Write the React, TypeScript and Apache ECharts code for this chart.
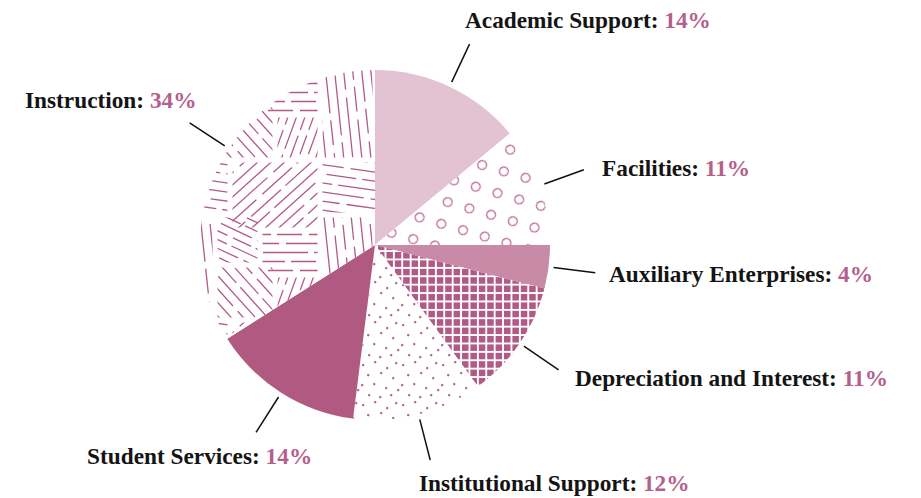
import React, { useEffect, useRef } from "react";
import * as echarts from "echarts";

// ---- data ----
const categories = [
  "Academic Support",
  "Facilities",
  "Auxiliary Enterprises",
  "Depreciation and Interest",
  "Institutional Support",
  "Student Services",
  "Instruction",
];
const shares = [14, 11, 4, 11, 12, 14, 34];

// ---- layout ----
const CENTER = [375, 245];
const RADIUS = 175;
const LINE_START = 180;
const LINE_END = 222;
const angleNudge = [0, 0, 0, 0, 0, 0, 4.6];
const labelLeft = [465, 602, 609, 575, 419, 87, 25];
const labelMidY = [19.5, 167.5, 273.5, 377.5, 483, 456, 99.5];

const PINK = "#b5588a";
const DARK = "#b05a86";

const svgUrl = (svg: string) =>
  "data:image/svg+xml;charset=utf-8," + encodeURIComponent(svg);

function circlesTile() {
  const s = 32;
  const c = (x: number, y: number) =>
    `<circle cx="${x}" cy="${y}" r="4.4" fill="none" stroke="${PINK}" stroke-width="1.2"/>`;
  return svgUrl(
    `<svg xmlns="http://www.w3.org/2000/svg" width="${s}" height="${s}"><rect width="${s}" height="${s}" fill="#fff"/>${c(8, 8)}${c(24, 24)}</svg>`
  );
}

function gridTile() {
  const s = 8.4;
  return svgUrl(
    `<svg xmlns="http://www.w3.org/2000/svg" width="${s}" height="${s}" viewBox="0 0 ${s} ${s}"><rect width="${s}" height="${s}" fill="#fff"/><rect x="0" y="0" width="6.5" height="6.5" fill="${DARK}"/></svg>`
  );
}

const dotSpots = [
  [3, 5], [15, 2], [27, 8], [36, 3], [8, 15], [21, 13], [33, 18], [2, 25],
  [14, 24], [26, 28], [38, 30], [9, 35], [20, 37], [31, 35],
];
function dotsTile() {
  const s = 40;
  const dots = dotSpots
    .map(
      ([x, y]) =>
        `<rect x="${x - 1}" y="${y - 0.5}" width="2.4" height="1.2" fill="${DARK}"/><rect x="${x - 0.4}" y="${y - 1.1}" width="1.2" height="2.4" fill="${DARK}"/>`
    )
    .join("");
  return svgUrl(
    `<svg xmlns="http://www.w3.org/2000/svg" width="${s}" height="${s}"><rect width="${s}" height="${s}" fill="#fff"/>${dots}</svg>`
  );
}

const hatchPatches = [
  { x: 0, y: 0, w: 70, h: 55, angle: 8, gap: 9, dash: "50 7 30 6" },
  { x: 70, y: 0, w: 90, h: 70, angle: -42, gap: 9, dash: "70 8 40 6" },
  { x: 0, y: 55, w: 55, h: 105, angle: 84, gap: 9, dash: "60 7 25 8" },
  { x: 55, y: 55, w: 45, h: 50, angle: 25, gap: 8, dash: "34 6 20 5" },
  { x: 100, y: 70, w: 60, h: 45, angle: 0, gap: 9, dash: "45 6 25 7" },
  { x: 55, y: 105, w: 60, h: 55, angle: 48, gap: 9, dash: "55 7 35 6" },
  { x: 115, y: 115, w: 45, h: 45, angle: -70, gap: 8, dash: "40 6 20 6" },
];
function hatchTile() {
  const s = 160;
  let body = "";
  hatchPatches.forEach((p, i) => {
    const cx = p.x + p.w / 2;
    const cy = p.y + p.h / 2;
    let lines = "";
    for (let k = -12; k <= 12; k++) {
      const yy = cy + k * p.gap;
      lines += `<line x1="${cx - 110}" y1="${yy}" x2="${cx + 110}" y2="${yy}" stroke-dasharray="${p.dash}" stroke-dashoffset="${(k * 23) % 90}"/>`;
    }
    body += `<clipPath id="c${i}"><rect x="${p.x + 2.5}" y="${p.y + 2.5}" width="${p.w - 5}" height="${p.h - 5}"/></clipPath><g clip-path="url(#c${i})"><g transform="rotate(${p.angle} ${cx} ${cy})">${lines}</g></g>`;
  });
  return svgUrl(
    `<svg xmlns="http://www.w3.org/2000/svg" width="${s}" height="${s}"><rect width="${s}" height="${s}" fill="#fff"/><g stroke="${PINK}" stroke-width="1.3" fill="none">${body}</g></svg>`
  );
}

const fills: any[] = [
  "#e3c3d1",
  { image: circlesTile(), repeat: "repeat", imageWidth: 32, imageHeight: 32, rotation: -0.5 },
  "#c98aa8",
  { image: gridTile(), repeat: "repeat", imageWidth: 8.4, imageHeight: 8.4 },
  { image: dotsTile(), repeat: "repeat", imageWidth: 40, imageHeight: 40 },
  "#b05a82",
  { image: hatchTile(), repeat: "repeat", imageWidth: 160, imageHeight: 160, x: 215, y: 70 },
];

export default function App() {
  const ref = useRef<HTMLDivElement>(null);
  useEffect(() => {
    document.body.style.margin = "0";
    const chart = echarts.init(ref.current!, null, { renderer: "svg" });
    const total = shares.reduce((a, b) => a + b, 0);
    const midAngles: number[] = [];
    let acc = 0;
    shares.forEach((v) => {
      const a = (v / total) * 360;
      midAngles.push(acc + a / 2);
      acc += a;
    });
    const font = "'Liberation Serif', 'Times New Roman', serif";
    chart.setOption({
      animation: false,
      backgroundColor: "#ffffff",
      series: [
        {
          type: "pie",
          center: CENTER,
          radius: RADIUS,
          startAngle: 90,
          clockwise: true,
          silent: true,
          avoidLabelOverlap: false,
          emphasis: { disabled: true },
          data: categories.map((name, i) => ({
            name,
            value: shares[i],
            itemStyle: { color: fills[i], borderWidth: 0 },
          })),
          label: {
            show: true,
            position: "outside",
            formatter: (p: any) => `{n|${p.name}: }{v|${p.value}%}`,
            rich: {
              n: { fontFamily: font, fontWeight: "bold", fontSize: 23.3, color: "#141414" },
              v: { fontFamily: font, fontWeight: "bold", fontSize: 23.3, color: "#b55f8d" },
            },
          },
          labelLine: {
            show: true,
            length: 20,
            length2: 0,
            lineStyle: { color: "#111", width: 1.5 },
          },
          labelLayout: (params: any) => {
            const i = params.dataIndex;
            const rad = ((midAngles[i] + angleNudge[i]) * Math.PI) / 180;
            const pt = (r: number) => [
              CENTER[0] + r * Math.sin(rad),
              CENTER[1] - r * Math.cos(rad),
            ];
            const a = pt(LINE_START);
            const b = pt(LINE_END);
            return {
              x: labelLeft[i],
              y: labelMidY[i],
              align: "left",
              verticalAlign: "middle",
              labelLinePoints: [a, b, b],
            };
          },
        },
      ],
    });
    return () => chart.dispose();
  }, []);
  return (
    <div
      ref={ref}
      style={{ position: "fixed", left: 0, top: 0, width: 921, height: 498 }}
    />
  );
}
